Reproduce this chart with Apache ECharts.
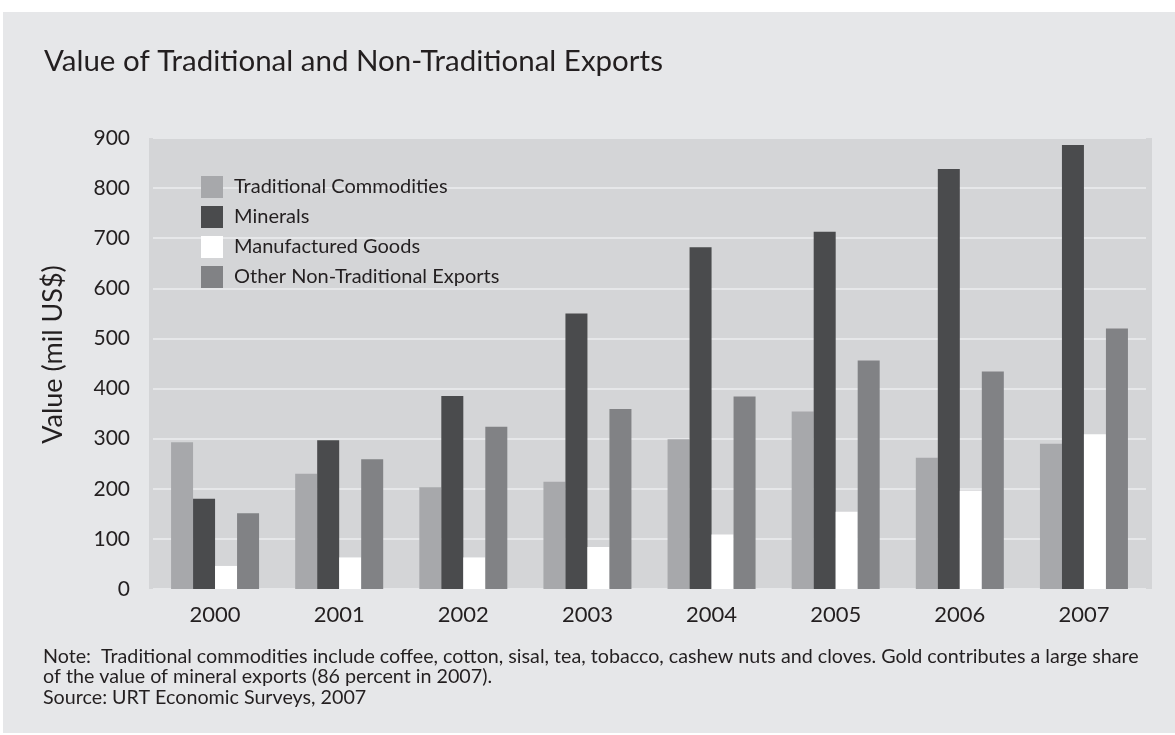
<!DOCTYPE html>
<html>
<head>
<meta charset="utf-8">
<script src="https://cdn.jsdelivr.net/npm/echarts@6/dist/echarts.min.js"></script>
<style>
  html, body { margin: 0; padding: 0; background: #ffffff; }
  #chart { width: 1175px; height: 735px; }
</style>
</head>
<body>
<div id="chart"></div>
<script>
// data (mil US$)
var years = ['2000', '2001', '2002', '2003', '2004', '2005', '2006', '2007'];
var traditional = [293, 230, 203, 214, 299, 354, 262, 290];
var minerals = [180, 297, 385, 550, 682, 713, 838, 886];
var manufactured = [46, 63, 63, 84, 109, 154, 196, 309];
var otherNonTrad = [151, 259, 324, 359, 384, 456, 434, 520];
var yTicks = { min: 0, max: 900, step: 100 };

var font = 'Lato, "Open Sans", sans-serif';
var ink = '#231f20';

var chartDom = document.getElementById('chart');
var myChart = echarts.init(chartDom);
var option;

function bar(name, data, color) {
    return {
        name: name,
        type: 'bar',
        data: data,
        barWidth: 22,
        barGap: '0%',
        itemStyle: { color: color },
        emphasis: { disabled: true }
    };
}

option = {
    backgroundColor: '#ffffff',
    animation: false,
    textStyle: { fontFamily: font, color: ink },
    title: {
        text: 'Value of Traditional and Non-Traditional Exports',
        left: 39,
        top: 41,
        textStyle: { fontFamily: font, fontSize: 29.5, fontWeight: 'normal', color: ink }
    },
    graphic: [
        {
            type: 'rect', z: -10, silent: true,
            shape: { x: 3, y: 12, width: 1172, height: 721 },
            style: { fill: '#e6e7e9' }
        },
        {
            type: 'rect', z: -5, silent: true,
            shape: { x: 149, y: 138, width: 1003, height: 451 },
            style: { fill: '#d4d5d7' }
        },
        {
            type: 'text', left: 43, top: 646, silent: true,
            style: {
                text: 'Note:  Traditional commodities include coffee, cotton, sisal, tea, tobacco, cashew nuts and cloves. Gold contributes a large share\nof the value of mineral exports (86 percent in 2007).\nSource: URT Economic Surveys, 2007',
                font: '19.7px ' + font,
                fill: ink,
                lineHeight: 20.5
            }
        }
    ],
    legend: {
        orient: 'vertical',
        left: 196,
        top: 171,
        itemWidth: 22,
        itemHeight: 22,
        itemGap: 8,
        icon: 'rect',
        selectedMode: false,
        textStyle: { fontFamily: font, fontSize: 20, color: ink, padding: [0, 0, 0, 6] }
    },
    grid: {
        left: 153,
        right: 29,
        top: 138,
        bottom: 146,
        containLabel: false
    },
    xAxis: {
        type: 'category',
        data: years,
        axisLine: { show: false },
        axisTick: { show: false },
        axisLabel: { fontFamily: font, fontSize: 22, color: ink, margin: 15 }
    },
    yAxis: {
        type: 'value',
        min: yTicks.min,
        max: yTicks.max,
        interval: yTicks.step,
        name: 'Value (mil US$)',
        nameLocation: 'middle',
        nameGap: 86,
        nameTextStyle: { fontFamily: font, fontSize: 27, color: ink, padding: [0, 0, 0, 18] },
        axisLine: { show: false },
        axisTick: { show: false },
        axisLabel: { fontFamily: font, fontSize: 21, color: ink, margin: 23 },
        splitLine: { lineStyle: { color: '#e6e7e9', width: 2 } }
    },
    series: [
        bar('Traditional Commodities', traditional, '#a7a8ab'),
        bar('Minerals', minerals, '#4a4b4d'),
        bar('Manufactured Goods', manufactured, '#ffffff'),
        bar('Other Non-Traditional Exports', otherNonTrad, '#818285')
    ]
};

option && myChart.setOption(option);
</script>
</body>
</html>
